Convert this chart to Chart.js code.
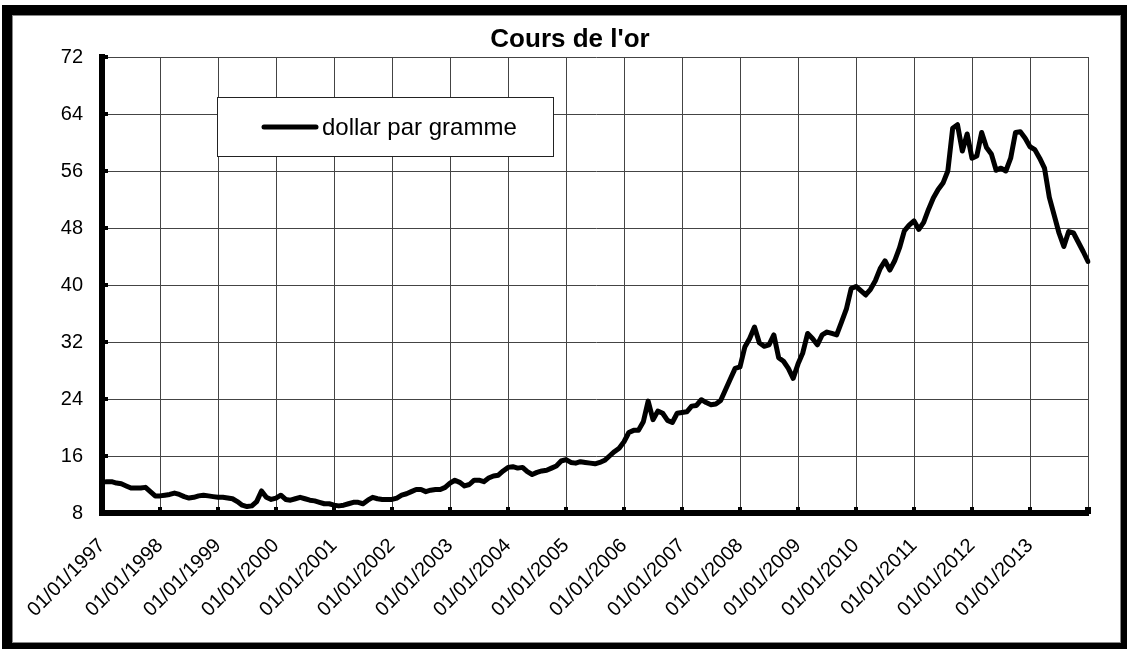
<!DOCTYPE html>
<html>
<head>
<meta charset="utf-8">
<title>Cours de l'or</title>
<script src="https://cdn.jsdelivr.net/npm/chart.js@4.4.1/dist/chart.umd.min.js"></script>
<style>
  html, body { margin: 0; padding: 0; background: #fff; }
  #wrap { width: 1127px; height: 649px; }
</style>
</head>
<body>
<div id="wrap"><canvas id="goldChart" width="1127" height="649"></canvas></div>
<script>
// === DONNÉES ===
const titre = "Cours de l'or";
const serieNom = 'dollar par gramme';
const anneeDebut = 1997;
const anneeFin = 2014; // dernier point : 01/01/2014

// prix mensuel en dollar par gramme
const prix1997 = [12.3, 12.4, 12.4, 12.2, 12.1, 11.8, 11.5, 11.5, 11.5, 11.6, 11.0, 10.4];
const prix1998 = [10.4, 10.5, 10.6, 10.8, 10.6, 10.3, 10.1, 10.2, 10.4, 10.5, 10.4, 10.3];
const prix1999 = [10.2, 10.2, 10.1, 10.0, 9.6, 9.1, 8.9, 9.0, 9.6, 11.1, 10.2, 9.9];
const prix2000 = [10.1, 10.5, 9.9, 9.8, 10.0, 10.2, 10.0, 9.8, 9.7, 9.5, 9.3, 9.3];
const prix2001 = [9.1, 9.0, 9.1, 9.3, 9.5, 9.5, 9.3, 9.8, 10.2, 10.0, 9.9, 9.9];
const prix2002 = [9.9, 10.1, 10.5, 10.7, 11.0, 11.3, 11.3, 11.0, 11.2, 11.3, 11.3, 11.6];
const prix2003 = [12.2, 12.6, 12.3, 11.8, 12.0, 12.6, 12.6, 12.4, 12.9, 13.2, 13.3, 13.9];
const prix2004 = [14.4, 14.5, 14.3, 14.4, 13.8, 13.4, 13.7, 13.9, 14.0, 14.3, 14.6, 15.3];
const prix2005 = [15.5, 15.1, 15.0, 15.2, 15.1, 15.0, 14.9, 15.1, 15.4, 16.0, 16.6, 17.1];
const prix2006 = [18.0, 19.3, 19.6, 19.6, 20.8, 23.7, 21.1, 22.3, 22.0, 21.0, 20.7, 22.0];
const prix2007 = [22.1, 22.2, 23.0, 23.1, 23.9, 23.5, 23.2, 23.3, 23.8, 25.3, 26.8, 28.3];
const prix2008 = [28.5, 31.3, 32.5, 34.1, 31.9, 31.4, 31.6, 33.0, 29.8, 29.3, 28.3, 26.9];
const prix2009 = [28.9, 30.5, 33.2, 32.5, 31.6, 33.0, 33.4, 33.2, 33.0, 34.8, 36.6, 39.5];
const prix2010 = [39.8, 39.2, 38.6, 39.4, 40.6, 42.3, 43.4, 42.1, 43.4, 45.2, 47.6, 48.4];
const prix2011 = [49.0, 47.8, 48.8, 50.6, 52.2, 53.4, 54.3, 56.0, 62.0, 62.5, 58.8, 61.2];
const prix2012 = [57.8, 58.1, 61.4, 59.3, 58.4, 56.1, 56.4, 56.0, 57.8, 61.4, 61.5, 60.6];
const prix2013 = [59.4, 59.0, 57.8, 56.4, 52.3, 49.8, 47.3, 45.4, 47.5, 47.3, 46.0, 44.7];
const prix2014 = [43.3];

const yTicks = [8, 16, 24, 32, 40, 48, 56, 64, 72];

const prix = [].concat(prix1997, prix1998, prix1999, prix2000, prix2001, prix2002,
  prix2003, prix2004, prix2005, prix2006, prix2007, prix2008, prix2009, prix2010,
  prix2011, prix2012, prix2013, prix2014);

// une catégorie par mois : 01/MM/AAAA
const mois = [];
for (let a = anneeDebut; a <= anneeFin; a++) {
  for (let m = 1; m <= 12; m++) {
    if (mois.length >= prix.length) break;
    mois.push('01/' + String(m).padStart(2, '0') + '/' + a);
  }
}

const police = "'Liberation Sans', Arial, sans-serif";

// === CADRE, TITRE, LÉGENDE ===
const cadrePlugin = {
  id: 'cadre',
  beforeDraw(chart) {
    const ctx = chart.ctx;
    ctx.save();
    ctx.fillStyle = '#fff';
    ctx.fillRect(0, 0, chart.width, chart.height);
    ctx.fillStyle = '#000';
    ctx.fillRect(2, 5, 10, 644);      // gauche
    ctx.fillRect(2, 5, 1125, 10);     // haut
    ctx.fillRect(1121, 5, 6, 644);    // droite
    ctx.fillRect(2, 643, 1125, 6);    // bas
    ctx.strokeStyle = '#888';
    ctx.lineWidth = 1;
    ctx.strokeRect(12.5, 15.5, 1108, 627);
    ctx.restore();
  },
  afterDraw(chart) {
    const ctx = chart.ctx;
    const xs = chart.scales.x;
    const ys = chart.scales.y;
    const area = chart.chartArea;
    ctx.save();

    // petites graduations
    ctx.fillStyle = '#000';
    yTicks.forEach(v => {
      if (v === yTicks[0]) return;
      const y = ys.getPixelForValue(v);
      ctx.fillRect(area.left + 3, y - 2, 3, 4);
    });
    mois.forEach((lab, i) => {
      if (i === 0 || !lab.startsWith('01/01/')) return;
      const x = xs.getPixelForValue(i);
      ctx.fillRect(x - 2, area.bottom - 6, 4, 3);
    });
    ctx.fillRect(area.right - 3, area.bottom - 6, 6, 7);

    // titre
    ctx.font = 'bold 26px ' + police;
    ctx.textAlign = 'center';
    ctx.textBaseline = 'alphabetic';
    ctx.fillText(titre, 570, 47);

    // légende
    ctx.fillStyle = '#fff';
    ctx.fillRect(217, 97, 337, 60);
    ctx.strokeStyle = '#222';
    ctx.lineWidth = 1;
    ctx.strokeRect(217.5, 97.5, 336, 59);
    ctx.strokeStyle = '#000';
    ctx.lineWidth = 5;
    ctx.lineCap = 'round';
    ctx.beginPath();
    ctx.moveTo(264, 127);
    ctx.lineTo(316, 127);
    ctx.stroke();
    ctx.fillStyle = '#000';
    ctx.font = '24px ' + police;
    ctx.textAlign = 'left';
    ctx.fillText(serieNom, 322, 135);

    ctx.restore();
  }
};

// === COURBE ===
const ctxOr = document.getElementById('goldChart').getContext('2d');
new Chart(ctxOr, {
  type: 'line',
  data: {
    labels: mois,
    datasets: [{
      label: serieNom,
      data: prix,
      borderColor: '#000',
      borderWidth: 5,
      borderJoinStyle: 'round',
      borderCapStyle: 'round',
      pointRadius: 0,
      tension: 0,
      fill: false
    }]
  },
  options: {
    responsive: false,
    animation: false,
    devicePixelRatio: 1,
    layout: { padding: { left: 12, top: 57, right: 39, bottom: 6 } },
    plugins: {
      legend: { display: false },
      title: { display: false },
      tooltip: { enabled: false }
    },
    scales: {
      x: {
        type: 'category',
        offset: false,
        grid: { color: '#444', lineWidth: 1, drawTicks: false },
        border: { color: '#000', width: 6 },
        ticks: {
          autoSkip: false,
          maxRotation: 45,
          minRotation: 45,
          padding: 21,
          color: '#000',
          font: { family: police, size: 20 },
          callback(value, index) {
            const lab = mois[index];
            if (index === mois.length - 1) return '';
            return lab.startsWith('01/01/') ? lab : null;
          }
        },
        afterFit(scale) { scale.height = 130; }
      },
      y: {
        min: 8,
        max: 72,
        afterBuildTicks(scale) { scale.ticks = yTicks.map(v => ({ value: v })); },
        grid: { color: '#444', lineWidth: 1, drawTicks: false },
        border: { color: '#000', width: 6 },
        ticks: {
          padding: 19,
          color: '#000',
          font: { family: police, size: 20 }
        },
        afterFit(scale) { scale.width = 90; }
      }
    }
  },
  plugins: [cadrePlugin]
});
</script>
</body>
</html>
